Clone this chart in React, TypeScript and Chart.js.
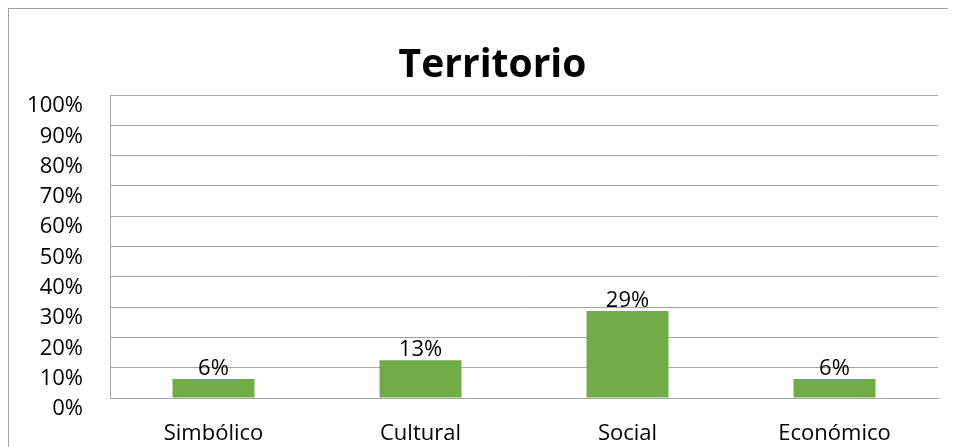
import React, { useEffect, useRef } from "react";
import { Chart, registerables } from "chart.js";

Chart.register(...registerables);

const categories = ["Simbólico", "Cultural", "Social", "Económico"];
const values = [6.25, 12.5, 28.75, 6.25];
const titleText = "Territorio";
const yMin = 0;
const yMax = 100;
const yStep = 10;

const FONT = "'Open Sans', sans-serif";

const dataLabelPlugin = {
  id: "dataLabels",
  afterDatasetsDraw(chart: any) {
    const ctx = chart.ctx;
    const meta = chart.getDatasetMeta(0);
    ctx.save();
    ctx.font = `22px ${FONT}`;
    ctx.fillStyle = "#000";
    ctx.textAlign = "center";
    ctx.textBaseline = "alphabetic";
    meta.data.forEach((bar: any, i: number) => {
      const v = chart.data.datasets[0].data[i] as number;
      ctx.fillText(Math.round(v) + "%", bar.x, bar.y - 4);
    });
    ctx.restore();
  },
};

// Center the title across the whole chart box (like the original), not just the padded area
const titleCenterPlugin = {
  id: "titleCenter",
  afterLayout(chart: any) {
    if (chart.titleBlock) {
      chart.titleBlock.left = 0;
      chart.titleBlock.right = chart.width;
    }
  },
};

export default function App() {
  const ref = useRef<HTMLCanvasElement>(null);
  useEffect(() => {
    document.documentElement.style.overflow = "hidden";
    const chart = new Chart(ref.current!, {
      type: "bar",
      data: {
        labels: categories,
        datasets: [
          {
            data: values,
            backgroundColor: "#70AD47",
            borderWidth: 0,
            categoryPercentage: 1,
            barPercentage: 0.396,
          },
        ],
      },
      options: {
        animation: false,
        responsive: false,
        maintainAspectRatio: false,
        layout: { padding: { top: 0, left: 0, right: 38, bottom: 0 } },
        plugins: {
          legend: { display: false },
          tooltip: { enabled: false },
          title: {
            display: true,
            text: titleText,
            color: "#000",
            font: { family: FONT, size: 39, weight: "bold", lineHeight: 1.2 },
            padding: { top: 33.2, bottom: 6 },
          },
        },
        scales: {
          x: {
            grid: { display: false, drawTicks: false },
            border: { display: true, color: "#a6a6a6", width: 1 },
            ticks: {
              color: "#000",
              font: { family: FONT, size: 22, lineHeight: 1.2 },
              padding: 22.5,
              maxRotation: 0,
              autoSkip: false,
            },
            afterFit: (scale: any) => {
              scale.height = 71;
            },
          },
          y: {
            min: yMin,
            max: yMax,
            grid: { color: "#a6a6a6", drawTicks: false, lineWidth: 1 },
            border: { display: true, color: "#a6a6a6", width: 1 },
            ticks: {
              stepSize: yStep,
              autoSkip: false,
              color: "#000",
              font: { family: FONT, size: 22, lineHeight: 1.2 },
              padding: 27,
              labelOffset: 11,
              callback: (v: any) => v + "%",
            },
            afterFit: (scale: any) => {
              scale.width = 101;
            },
          },
        },
      },
      plugins: [titleCenterPlugin, dataLabelPlugin],
    });
    return () => chart.destroy();
  }, []);

  return (
    <div
      style={{
        width: 947,
        height: 438,
        borderLeft: "1px solid #a0a0a0",
        borderTop: "1px solid #a0a0a0",
        overflow: "hidden",
        background: "#fff",
      }}
    >
      <canvas ref={ref} width={967} height={460} style={{ display: "block" }} />
    </div>
  );
}
